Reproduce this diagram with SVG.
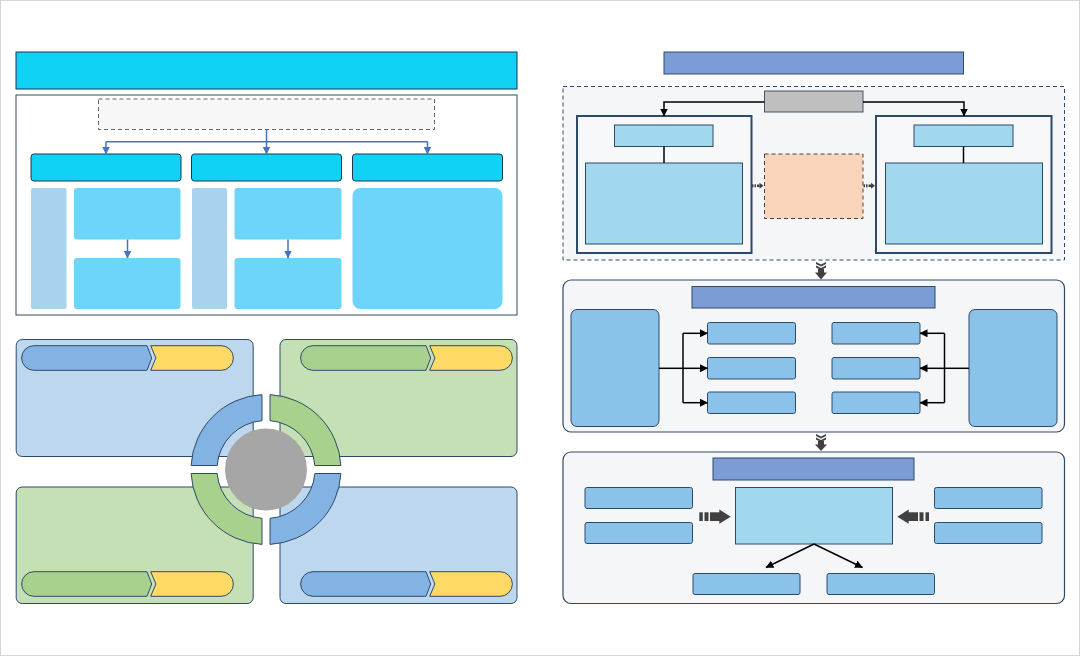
<svg xmlns="http://www.w3.org/2000/svg" width="1080" height="656" viewBox="0 0 1080 656">
<defs>
<style>
.dk{stroke:#2e4a6b;stroke-width:1}
.hdr{fill:#10d2f5;stroke:#1f3550;stroke-width:1}
.cy{fill:#6cd5f9}
.strip{fill:#a7d3ec}
.qb{fill:#bdd7ee;stroke:#2e4a6b;stroke-width:1}
.qg{fill:#c5e0b4;stroke:#2e4a6b;stroke-width:1}
.pb{fill:#83b3e2;stroke:#2e4a6b;stroke-width:1}
.pg{fill:#a9d18e;stroke:#2e4a6b;stroke-width:1}
.py{fill:#ffd966;stroke:#2e4a6b;stroke-width:1}
.ttl{fill:#7b9cd5;stroke:#2e4a6b;stroke-width:1}
.pan{fill:#f5f6f8;stroke:#2e4a6b;stroke-width:1.2}
.lb{fill:#a2d8ee;stroke:#2e4a6b;stroke-width:1}
.mb{fill:#8bc2ea;stroke:#2e4a6b;stroke-width:1}
.frm{fill:#f7f8fa;stroke:#2e4a6b;stroke-width:2}
.bl{stroke:#4472c4;stroke-width:1.5;fill:none}
.k{stroke:#000;stroke-width:1.5;fill:none}
.sa{fill:#404040}
</style>
<marker id="ab" markerWidth="8" markerHeight="8" refX="7.5" refY="4" orient="auto" markerUnits="userSpaceOnUse"><path d="M0,0 L8,4 L0,8 Z" fill="#4472c4"/></marker>
<marker id="ak" markerWidth="8" markerHeight="8" refX="7.5" refY="4" orient="auto" markerUnits="userSpaceOnUse"><path d="M0,0 L8,4 L0,8 Z" fill="#000"/></marker>
<path id="pillL" d="M33.9,345.7 H147 L151.7,358 L147,370.3 H33.9 A12.3,12.3 0 0 1 33.9,345.7 Z"/>
<path id="pillR" d="M150.7,345.7 H221.1 A12.3,12.3 0 0 1 221.1,370.3 H150.7 L155.9,358 Z"/>
</defs>
<rect x="0.5" y="0.5" width="1079" height="655" fill="#ffffff" stroke="#d6d6d6"/>

<!-- LEFT TOP -->
<g id="lt-header"><rect x="16" y="52" width="501" height="37" class="hdr"/></g>
<g id="lt-container"><rect x="16" y="95" width="501" height="220" fill="#ffffff" class="dk"/></g>
<g id="lt-dashed"><rect x="98.5" y="99" width="336" height="30.5" fill="#f7f7f7" stroke="#666" stroke-dasharray="4,3"/></g>
<g id="lt-h1"><rect x="31" y="154" width="150" height="27" rx="3" class="hdr"/></g>
<g id="lt-h2"><rect x="191.5" y="154" width="150" height="27" rx="3" class="hdr"/></g>
<g id="lt-h3"><rect x="352.5" y="154" width="150" height="27" rx="3" class="hdr"/></g>
<g id="lt-s1"><rect x="31" y="188" width="35.5" height="121" rx="2" class="strip"/></g>
<g id="lt-b1a"><rect x="74" y="188" width="106.5" height="51.5" rx="3" class="cy"/></g>
<g id="lt-b1b"><rect x="74" y="258" width="106.5" height="51" rx="3" class="cy"/></g>
<g id="lt-s2"><rect x="192" y="188" width="35" height="121" rx="2" class="strip"/></g>
<g id="lt-b2a"><rect x="234.5" y="188" width="107" height="51.5" rx="3" class="cy"/></g>
<g id="lt-b2b"><rect x="234.5" y="258" width="107" height="51" rx="3" class="cy"/></g>
<g id="lt-b3"><rect x="352.5" y="188" width="150" height="121" rx="8" class="cy"/></g>

<!-- LEFT BOTTOM QUADRANTS -->
<g id="q-tl"><rect x="16.2" y="339.5" width="237" height="117" rx="6" class="qb"/>
<use href="#pillL" class="pb"/><use href="#pillR" class="py"/></g>
<g id="q-tr"><rect x="280" y="339.5" width="237" height="117" rx="6" class="qg"/>
<use href="#pillL" class="pg" transform="translate(279,0)"/><use href="#pillR" class="py" transform="translate(279,0)"/></g>
<g id="q-bl"><rect x="16.2" y="487" width="237" height="116.5" rx="6" class="qg"/>
<use href="#pillL" class="pg" transform="translate(0,226)"/><use href="#pillR" class="py" transform="translate(0,226)"/></g>
<g id="q-br"><rect x="280" y="487" width="237" height="116.5" rx="6" class="qb"/>
<use href="#pillL" class="pb" transform="translate(279,226)"/><use href="#pillR" class="py" transform="translate(279,226)"/></g>
<g id="ring">
<path class="pb" d="M262,394.61 L262,420.66 A49,49 0 0 0 217.16,465.5 L191.11,465.5 A75,75 0 0 1 262,394.61 Z"/>
<path class="pg" d="M270,394.61 A75,75 0 0 1 340.89,465.5 L314.84,465.5 A49,49 0 0 0 270,420.66 Z"/>
<path class="pb" d="M340.89,473.5 A75,75 0 0 1 270,544.39 L270,518.34 A49,49 0 0 0 314.84,473.5 Z"/>
<path class="pg" d="M262,544.39 A75,75 0 0 1 191.11,473.5 L217.16,473.5 A49,49 0 0 0 262,518.34 Z"/>
</g>
<g id="center-circle"><circle cx="266" cy="469.5" r="41" fill="#a6a6a6"/></g>

<!-- RIGHT -->
<g id="r-title"><rect x="664" y="52" width="299.5" height="22" class="ttl"/></g>
<g id="r-dashed"><rect x="563" y="86.5" width="501.5" height="173.5" fill="#f5f6f8" stroke="#2e4a6b" stroke-dasharray="4,3"/></g>
<g id="r-gray"><rect x="764.5" y="91" width="98.5" height="21" fill="#bfbfbf" stroke="#44546a"/></g>
<g id="r-frameL"><rect x="577" y="116" width="174.5" height="137" class="frm"/>
<rect x="614.5" y="125" width="98.5" height="21.5" class="lb"/>
<rect x="585.5" y="163" width="157" height="81" class="lb"/></g>
<g id="r-peach"><rect x="764.5" y="154" width="98.5" height="64.5" fill="#f8d4bb" stroke="#444" stroke-dasharray="4,3"/></g>
<g id="r-frameR"><rect x="876" y="116" width="175.5" height="137" class="frm"/>
<rect x="914" y="125" width="99" height="21.5" class="lb"/>
<rect x="885.5" y="163" width="157" height="81" class="lb"/></g>

<g id="panel2"><rect x="563" y="280" width="501.5" height="152" rx="8" class="pan"/></g>
<g id="p2-title"><rect x="692" y="286.5" width="243" height="21.5" class="ttl"/></g>
<g id="p2-left"><rect x="571" y="309.5" width="88" height="117" rx="6" class="mb"/></g>
<g id="p2-right"><rect x="969" y="309.5" width="88" height="117" rx="6" class="mb"/></g>
<g id="p2-l1"><rect x="707.5" y="322.5" width="88" height="21.5" rx="2" class="mb"/></g>
<g id="p2-l2"><rect x="707.5" y="357.5" width="88" height="21.5" rx="2" class="mb"/></g>
<g id="p2-l3"><rect x="707.5" y="392" width="88" height="21.5" rx="2" class="mb"/></g>
<g id="p2-r1"><rect x="832" y="322.5" width="88" height="21.5" rx="2" class="mb"/></g>
<g id="p2-r2"><rect x="832" y="357.5" width="88" height="21.5" rx="2" class="mb"/></g>
<g id="p2-r3"><rect x="832" y="392" width="88" height="21.5" rx="2" class="mb"/></g>

<g id="panel3"><rect x="563" y="452" width="501.5" height="151.5" rx="8" class="pan"/></g>
<g id="p3-title"><rect x="713" y="458" width="201" height="22" class="ttl"/></g>
<g id="p3-l1"><rect x="585" y="487.5" width="107.5" height="21" rx="2" class="mb"/></g>
<g id="p3-l2"><rect x="585" y="522.5" width="107.5" height="21" rx="2" class="mb"/></g>
<g id="p3-r1"><rect x="934.5" y="487.5" width="107.5" height="21" rx="2" class="mb"/></g>
<g id="p3-r2"><rect x="934.5" y="522.5" width="107.5" height="21" rx="2" class="mb"/></g>
<g id="p3-center"><rect x="735.5" y="487.5" width="157" height="56.5" class="lb"/></g>
<g id="p3-b1"><rect x="693" y="573.5" width="107" height="21" rx="2" class="mb"/></g>
<g id="p3-b2"><rect x="827" y="573.5" width="107.5" height="21" rx="2" class="mb"/></g>

<!-- CONNECTORS -->
<g id="connectors">
<path class="bl" d="M266.5,129.5 V141.7 M106,141.7 H427.5"/>
<path class="bl" d="M106,141.5 V154" marker-end="url(#ab)"/>
<path class="bl" d="M266.5,141.5 V154" marker-end="url(#ab)"/>
<path class="bl" d="M427.5,141.5 V154" marker-end="url(#ab)"/>
<path class="bl" d="M127.5,239.5 V258" marker-end="url(#ab)"/>
<path class="bl" d="M288,239.5 V258" marker-end="url(#ab)"/>

<path class="k" d="M764.5,102 H664 V116" marker-end="url(#ak)"/>
<path class="k" d="M863,102 H964 V116" marker-end="url(#ak)"/>
<path class="k" d="M664,146.5 V163"/>
<path class="k" d="M963.5,146.5 V163"/>

<path class="k" d="M659,368.3 H683"/>
<path class="k" d="M683,333.3 V402.7"/>
<path class="k" d="M683,333.3 H707.5" marker-end="url(#ak)"/>
<path class="k" d="M683,368.3 H707.5" marker-end="url(#ak)"/>
<path class="k" d="M683,402.7 H707.5" marker-end="url(#ak)"/>
<path class="k" d="M969,368.3 H944.5"/>
<path class="k" d="M944.5,333.3 V402.7"/>
<path class="k" d="M944.5,333.3 H920" marker-end="url(#ak)"/>
<path class="k" d="M944.5,368.3 H920" marker-end="url(#ak)"/>
<path class="k" d="M944.5,402.7 H920" marker-end="url(#ak)"/>

<path class="k" d="M814,544 L766,567.5" marker-end="url(#ak)"/>
<path class="k" d="M814,544 L862.5,567.5" marker-end="url(#ak)"/>

<!-- tiny striped arrows -->
<g class="sa">
<rect x="752" y="184.3" width="1.5" height="3"/><rect x="754.5" y="184.3" width="1.5" height="3"/>
<rect x="757" y="184.5" width="2.5" height="2.5"/><path d="M759.5,182.7 L763.5,185.8 L759.5,188.8 Z"/>
<rect x="863.5" y="184.3" width="1.5" height="3"/><rect x="866" y="184.3" width="1.5" height="3"/>
<rect x="868.5" y="184.5" width="2.5" height="2.5"/><path d="M871,182.7 L875,185.8 L871,188.8 Z"/>
</g>
<!-- down striped arrows -->
<g class="sa">
<path d="M816,262 L821,264.5 L826,262 L826,264 L821,266.5 L816,264 Z"/>
<path d="M816,265.5 L821,268 L826,265.5 L826,267.5 L821,270 L816,267.5 Z"/>
<rect x="818" y="269" width="6" height="4"/><path d="M815,272.5 L827,272.5 L821,279.5 Z"/>
<path d="M816,434 L821,436.5 L826,434 L826,436 L821,438.5 L816,436 Z"/>
<path d="M816,437.5 L821,440 L826,437.5 L826,439.5 L821,442 L816,439.5 Z"/>
<rect x="818" y="441" width="6" height="4"/><path d="M815,444.5 L827,444.5 L821,451 Z"/>
</g>
<!-- big striped arrows panel3 -->
<g class="sa">
<rect x="699.3" y="512.3" width="3.5" height="8.7"/><rect x="704.5" y="512.3" width="4" height="8.7"/>
<rect x="710" y="512.3" width="10" height="8.7"/><path d="M719.3,509.5 L730.7,516.7 L719.3,523.8 Z"/>
<rect x="925.5" y="512.3" width="3.5" height="8.7"/><rect x="919.5" y="512.3" width="4" height="8.7"/>
<rect x="908" y="512.3" width="10" height="8.7"/><path d="M908.7,509.5 L897.3,516.7 L908.7,523.8 Z"/>
</g>
</g>
</svg>
